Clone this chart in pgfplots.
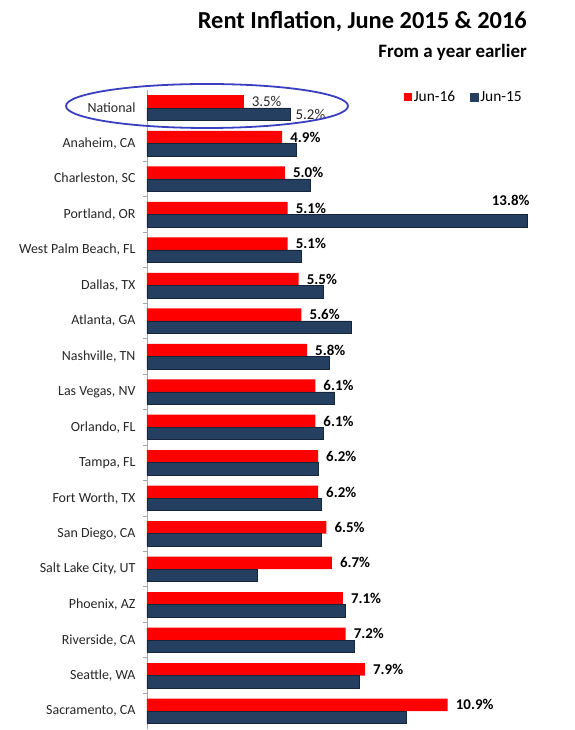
\documentclass[border=0pt]{standalone}
\usepackage{fontspec}
\setmainfont{Carlito}
\usepackage{pgfplots}
\pgfplotsset{compat=1.18}
\definecolor{jred}{HTML}{FF0000}
\definecolor{jnavy}{HTML}{243F60}
\definecolor{ellblue}{HTML}{3A3FC0}
\begin{document}
\begin{tikzpicture}
\useasboundingbox (-147bp,-1.25bp) rectangle (428bp,728.75bp);
\begin{axis}[
  at={(0,0)}, anchor=south west, scale only axis,
  width=400bp, height=638.5bp,
  xmin=0, xmax=14.5, ymin=-0.5, ymax=17.5,
  axis x line=none, axis y line*=left,
  y axis line style={draw=gray!70, line width=0.8bp, -},
  ytick={0,...,17},
  yticklabels={{Sacramento, CA},{Seattle, WA},{Riverside, CA},{Phoenix, AZ},{Salt Lake City, UT},{San Diego, CA},{Fort Worth, TX},{Tampa, FL},{Orlando, FL},{Las Vegas, NV},{Nashville, TN},{Atlanta, GA},{Dallas, TX},{West Palm Beach, FL},{Portland, OR},{Charleston, SC},{Anaheim, CA},{National}},
  major tick length=0pt,
  extra y ticks={0.5,1.5,...,16.5},
  extra y tick labels={},
  extra y tick style={major tick length=4bp, tick align=outside, tick style={draw=gray!70, line width=0.8bp}},
  yticklabel style={font=\fontsize{14}{16}\selectfont, text=black!85, xshift=-8bp},
  legend style={at={(0.95,0.9894)}, anchor=east, draw=none, fill=none, font=\fontsize{15.5}{17}\selectfont, legend columns=2, /tikz/every even column/.append style={column sep=13bp}},
  legend cell align=left,
]
\addplot[xbar, bar width=12.5bp, bar shift=6.25bp, fill=jred, draw=none, point meta=x,
  nodes near coords={\pgfmathprintnumber[assume math mode=true,fixed,fixed zerofill,precision=1]{\pgfplotspointmeta}\%},
  nodes near coords style={anchor=west, inner sep=0pt, xshift=8bp, yshift=6.25bp, font=\bfseries\fontsize{15}{17}\selectfont, text=black},
  legend image code/.code={\fill[jred] (0bp,-4bp) rectangle (7.5bp,4bp);}]
coordinates {(10.9,0) (7.9,1) (7.2,2) (7.1,3) (6.7,4) (6.5,5) (6.2,6) (6.2,7) (6.1,8) (6.1,9) (5.8,10) (5.6,11) (5.5,12) (5.1,13) (5.1,14) (5.0,15) (4.9,16)};
\addlegendentry{Jun-16}
\addplot[xbar, bar width=12.5bp, bar shift=-6.25bp, fill=jnavy, draw=jnavy!60!black, line width=0.5bp,
  legend image code/.code={\fill[jnavy] (0bp,-4bp) rectangle (7.5bp,4bp);}]
coordinates {(9.4,0) (7.7,1) (7.5,2) (7.2,3) (4.0,4) (6.3,5) (6.3,6) (6.2,7) (6.4,8) (6.8,9) (6.6,10) (7.4,11) (6.4,12) (5.6,13) (13.8,14) (5.9,15) (5.4,16) (5.2,17)};
\addlegendentry{Jun-15}
% National, Jun-16 (label in regular weight)
\addplot[forget plot, xbar, bar width=12.5bp, bar shift=6.25bp, fill=jred, draw=none, point meta=x,
  nodes near coords={\pgfmathprintnumber[assume math mode=true,fixed,fixed zerofill,precision=1]{\pgfplotspointmeta}\%},
  nodes near coords style={anchor=west, inner sep=0pt, xshift=8bp, yshift=6.25bp, font=\fontsize{15}{17}\selectfont, text=black!85}]
coordinates {(3.5,17)};
% National, Jun-15 label
\addplot[forget plot, xbar, bar width=12.5bp, bar shift=-6.25bp, fill=none, draw=none, point meta=x,
  nodes near coords={\pgfmathprintnumber[assume math mode=true,fixed,fixed zerofill,precision=1]{\pgfplotspointmeta}\%},
  nodes near coords style={anchor=west, inner sep=0pt, xshift=5bp, yshift=-6.25bp, font=\fontsize{15}{17}\selectfont, text=black!85}]
coordinates {(5.2,17)};
% Portland, Jun-15 label
\addplot[forget plot, xbar, bar width=12.5bp, bar shift=-6.25bp, fill=none, draw=none, point meta=x,
  nodes near coords={\pgfmathprintnumber[assume math mode=true,fixed,fixed zerofill,precision=1]{\pgfplotspointmeta}\%},
  nodes near coords style={anchor=east, inner sep=0pt, xshift=2bp, yshift=13.5bp, font=\bfseries\fontsize{15}{17}\selectfont, text=black}]
coordinates {(13.8,14)};
\end{axis}
\node[anchor=east, inner sep=0pt, font=\bfseries\fontsize{24.5}{28}\selectfont] at (380bp,706.75bp) {Rent Inflation, June 2015 \& 2016};
\node[anchor=east, inner sep=0pt, font=\bfseries\fontsize{19}{22}\selectfont] at (380bp,676.75bp) {From a year earlier};
\draw[ellblue, line width=1.8bp] (60bp,622.75bp) ellipse [x radius=141bp, y radius=22bp];
\end{tikzpicture}
\end{document}
